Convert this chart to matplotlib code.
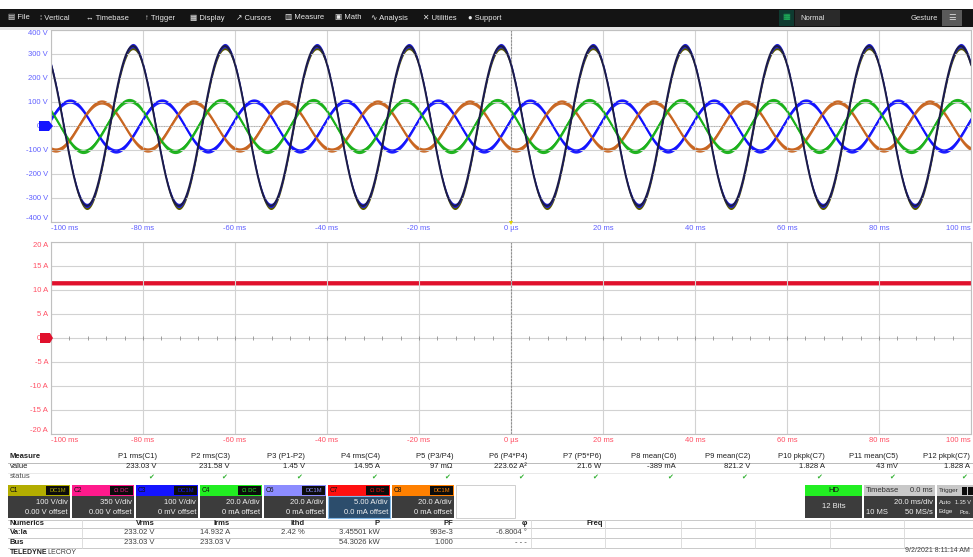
import numpy as np
import matplotlib.pyplot as plt
from matplotlib.patches import Rectangle, Polygon

W, H = 973, 557

# horizontal axis (ms) and tick labels
x_ticks = [-100, -80, -60, -40, -20, 0, 20, 40, 60, 80, 100]
x_labels = ['-100 ms', '-80 ms', '-60 ms', '-40 ms', '-20 ms', '0 µs',
            '20 ms', '40 ms', '60 ms', '80 ms', '100 ms']
v_ticks = [400, 300, 200, 100, 0, -100, -200, -300, -400]
v_labels = ['400 V', '300 V', '200 V', '100 V', '0 V', '-100 V', '-200 V', '-300 V', '-400 V']
i_ticks = [20, 15, 10, 5, 0, -5, -10, -15, -20]
i_labels = ['20 A', '15 A', '10 A', '5 A', '0 A', '-5 A', '-10 A', '-15 A', '-20 A']

# waveforms: amplitude (V), time of first peak (ms)
period = 20.0
line_amp, line_peak = 333, -82.2
blue_amp, blue_peak = 104, -95.9
orange_amp, orange_peak = 100, -89.0
green_amp, green_peak = 106, -83.0
dc_current = 11.5

# measure table
meas_names = ['P1 rms(C1)', 'P2 rms(C3)', 'P3 (P1-P2)', 'P4 rms(C4)', 'P5 (P3/P4)',
              'P6 (P4*P4)', 'P7 (P5*P6)', 'P8 mean(C6)', 'P9 mean(C2)', 'P10 pkpk(C7)',
              'P11 mean(C5)', 'P12 pkpk(C7)']
meas_values = ['233.03 V', '231.58 V', '1.45 V', '14.95 A', '97 mΩ', '223.62 A²',
               '21.6 W', '-389 mA', '821.2 V', '1.828 A', '43 mV', '1.828 A']

# channel descriptor boxes
chan_names = ['C1', 'C2', 'C3', 'C4', 'C6', 'C7', 'C8']
chan_colors = ['#b3ad00', '#ff1a8c', '#1414ff', '#22ee22', '#8c8cff', '#ff1010', '#ff8000']
chan_scale = ['100 V/div', '350 V/div', '100 V/div', '20.0 A/div', '20.0 A/div',
              '5.00 A/div', '20.0 A/div']
chan_offset = ['0.00 V offset', '0.00 V offset', '0 mV offset', '0 mA offset',
               '0 mA offset', '0.0 mA offset', '0 mA offset']

# numerics table
num_headers = ['Vrms', 'Irms', 'Ithd', 'P', 'PF', 'φ', 'Freq']
num_rows = ['Va:Ia', 'Bus']
num_vals = [['233.02 V', '14.932 A', '2.42 %', '3.45501 kW', '993e-3', '-6.8004 °', ''],
            ['233.03 V', '233.03 V', '', '54.3026 kW', '1.000', '- - -', '']]

menu = [('▤', 'File'), ('⁞', 'Vertical'), ('↔', 'Timebase'), ('↑', 'Trigger'),
        ('▦', 'Display'), ('↗', 'Cursors'), ('▥', 'Measure'), ('▣', 'Math'),
        ('∿', 'Analysis'), ('✕', 'Utilities'), ('●', 'Support')]

plt.rcParams['font.family'] = ['Liberation Sans', 'DejaVu Sans']
FS = 5.5

fig = plt.figure(figsize=(W / 100, H / 100), dpi=100)
fig.patch.set_facecolor('white')


def box(x0, y0, x1, y1):
    return [x0 / W, 1 - y1 / H, (x1 - x0) / W, (y1 - y0) / H]


def style_axes(ax, yt, yl, lim, col):
    ax.set_xlim(-100, 100)
    ax.set_ylim(-lim, lim)
    ax.set_xticks(x_ticks, x_labels)
    ax.set_yticks(yt, yl)
    ax.tick_params(length=0, labelsize=FS, colors=col, pad=2)
    ax.get_xticklabels()[0].set_ha('left')
    ax.get_xticklabels()[-1].set_ha('right')
    ax.get_yticklabels()[0].set_va('top')
    ax.get_yticklabels()[-1].set_va('bottom')
    ax.grid(color='#d2d2d2', lw=0.8)
    for s in ax.spines.values():
        s.set_color('#c0c0c0')
        s.set_linewidth(0.8)
    ax.axvline(0, color='#909090', lw=0.8, ls=(0, (2, 1)))


t = np.linspace(-100, 100, 6001)


def wave(amp, peak):
    return amp * np.cos(2 * np.pi * (t - peak) / period)


ax1 = fig.add_axes(box(51, 30, 971, 222))
style_axes(ax1, v_ticks, v_labels, 400, '#6060ff')
ax1.axhline(0, color='#a0a0a0', lw=0.6, ls=(0, (1, 2)))
for amp, peak, col in [(blue_amp, blue_peak, '#1010ff'),
                       (orange_amp, orange_peak, '#c8641e'),
                       (green_amp, green_peak, '#18b018')]:
    v = wave(amp, peak)
    ax1.fill_between(t, v - 9, v + 9, color=col, lw=0, alpha=0.95)
    ax1.plot(t, v, color=col, lw=0.9)
vl = wave(line_amp, line_peak)
ax1.fill_between(t, vl - 15, vl + 5, color='#5a5a00', lw=0)
ax1.fill_between(t, vl - 7, vl + 11, color='#2020d8', lw=0)
ax1.plot(t, vl, color='#1c1c48', lw=1.4)

ax2 = fig.add_axes(box(51, 242, 971, 434))
style_axes(ax2, i_ticks, i_labels, 20, '#ff5064')
m = np.arange(-100, 101, 4)
ax2.plot(m, np.zeros_like(m), ls='none', marker='|', ms=2.5, color='#909090', mew=0.6)
ax2.fill_between(t, np.full_like(t, dc_current - 0.45), np.full_like(t, dc_current + 0.45),
                 color='#e0102c', lw=0)

# overlay in pixel coordinates
ov = fig.add_axes([0, 0, 1, 1])
ov.set_xlim(0, W)
ov.set_ylim(H, 0)
ov.axis('off')
ov.patch.set_alpha(0)


def rect(x0, y0, x1, y1, fc, ec='none', lw=0.8):
    ov.add_patch(Rectangle((x0, y0), x1 - x0, y1 - y0, fc=fc, ec=ec, lw=lw))


def txt(x, y, s, ha='left', color='#202020', size=FS, weight='normal'):
    ov.text(x, y, s, ha=ha, va='center', color=color, fontsize=size, fontweight=weight)


# menu bar
rect(0, 9, W, 27, '#141414')
rect(0, 27, W, 30, '#e6e6e6')
mx = [8, 40, 86, 145, 190, 236, 285, 335, 371, 423, 468]
for x, (ic, name) in zip(mx, menu):
    txt(x, 18, ic + ' ' + name, color='#e8e8e8', size=5.5)
rect(779, 10, 794, 26, '#0e3a30')
txt(786.5, 18, '▦', ha='center', color='#20c060', size=6)
rect(795, 10, 840, 26, '#2a2a2a')
txt(800, 18, 'Normal', color='#e0e0e0', size=5.5)
txt(938, 18, 'Gesture', ha='right', color='#e0e0e0', size=5.5)
rect(942, 10, 962, 26, '#5a5a5a')
txt(952, 18, '☰', ha='center', color='#e0e0e0', size=6)

# channel tags
ov.add_patch(Polygon([[39, 121], [49, 121], [53, 126], [49, 131], [39, 131]], fc='#1414ff'))
ov.add_patch(Polygon([[40, 333], [50, 333], [53, 338], [50, 343], [40, 343]], fc='#e0102c'))
ov.add_patch(Polygon([[509, 221], [513, 221], [511, 225]], fc='#e0d000'))

# measure table
col_right = [157, 230, 305, 380, 453, 527, 601, 676, 750, 825, 898, 970]
txt(10, 457, 'Measure', weight='bold')
txt(10, 467, 'value')
txt(10, 477, 'status', color='#505050')
ov.plot([8, W], [462.5, 462.5], color='#b0b0b0', lw=0.6)
ov.plot([8, W], [472.5, 472.5], color='#e0e0e0', lw=0.5)
for x, n, v in zip(col_right, meas_names, meas_values):
    txt(x, 457, n, ha='right')
    txt(x, 467, v, ha='right')
    txt(x - 3, 477, '✔', ha='right', color='#30b030', size=5)

for i, (n, c, sc, of) in enumerate(zip(chan_names, chan_colors, chan_scale, chan_offset)):
    x0 = 8 + 64 * i
    rect(x0, 485, x0 + 62, 496, c)
    rect(x0 + 38, 486, x0 + 61, 495, '#0c0c0c')
    txt(x0 + 2, 490.5, n, color='#101010', size=4.8)
    txt(x0 + 49.5, 490.5, 'DC1M' if i % 2 == 0 else 'Ω DC', ha='center', color=c, size=4.2)
    body = '#2c4d6c' if n == 'C7' else '#3c3c3c'
    edge = '#80b8e8' if n == 'C7' else 'none'
    rect(x0, 496, x0 + 62, 518, body, ec=edge)
    txt(x0 + 60, 502, sc, ha='right', color='#f0f0f0')
    txt(x0 + 60, 512, of, ha='right', color='#f0f0f0')
rect(456, 485, 515, 518, 'white', ec='#c8c8c8', lw=0.6)

# HD / timebase / trigger boxes
rect(805, 485, 862, 496, '#22ee22')
txt(833.5, 490.5, 'HD', ha='center', color='#101010')
rect(805, 496, 862, 518, '#3c3c3c')
txt(833.5, 507, '12 Bits', ha='center', color='#f0f0f0')
rect(864, 485, 935, 496, '#c8c8c8')
txt(866, 490.5, 'Timebase', color='#303030')
txt(933, 490.5, '0.0 ms', ha='right', color='#303030')
rect(864, 496, 935, 518, '#3c3c3c')
txt(933, 502, '20.0 ms/div', ha='right', color='#f0f0f0')
txt(866, 512, '10 MS', color='#f0f0f0')
txt(933, 512, '50 MS/s', ha='right', color='#f0f0f0')
rect(937, 485, W, 496, '#c8c8c8')
txt(938.5, 490.5, 'Trigger', color='#303030', size=4.6)
rect(962, 486.5, 966.5, 494.5, '#0c0c0c')
rect(968, 486.5, W, 494.5, '#0c0c0c')
rect(937, 496, W, 518, '#3c3c3c')
txt(938.5, 502, 'Auto', color='#f0f0f0', size=4.4)
txt(971, 502, '1.35 V', ha='right', color='#f0f0f0', size=4.0)
txt(938.5, 512, 'Edge', color='#f0f0f0', size=4.4)
txt(971, 512, 'Pos.', ha='right', color='#f0f0f0', size=4.0)

# numerics table
for y in [519.5, 528, 538, 548]:
    ov.plot([8, W], [y, y], color='#c0c0c0', lw=0.6)
for x in [82, 531, 605, 681, 755, 830, 904]:
    ov.plot([x, x], [519.5, 548], color='#d8d8d8', lw=0.6)
txt(10, 523.5, 'Numerics', weight='bold')
num_right = [155, 230, 305, 380, 453, 527, 603]
for x, h in zip(num_right, num_headers):
    txt(x, 523.5, h, ha='right', weight='bold')
for r, (name, vals) in enumerate(zip(num_rows, num_vals)):
    y = 533 + 10 * r
    txt(10, y, name, weight='bold')
    for x, v in zip(num_right, vals):
        txt(x, y, v, ha='right', color='#404040')

txt(10, 552, 'TELEDYNE', weight='bold', color='#202020', size=5)
txt(47, 552, 'LECROY', color='#404040', size=5)
txt(970, 551, '9/2/2021 8:11:14 AM', ha='right', color='#404040', size=5)

fig.savefig('out.png', dpi=100)
